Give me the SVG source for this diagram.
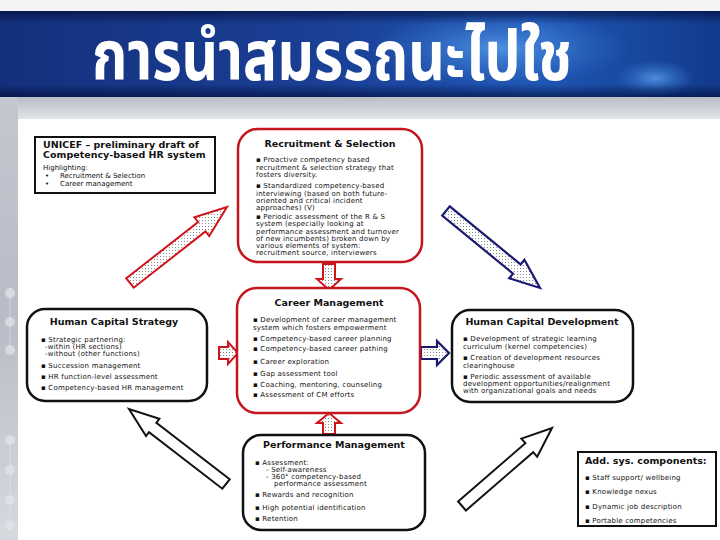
<svg xmlns="http://www.w3.org/2000/svg" width="720" height="540" viewBox="0 0 720 540">
<defs>
<linearGradient id="topg" x1="0" y1="0" x2="0" y2="1"><stop offset="0" stop-color="#f4f4f6"/><stop offset="1" stop-color="#dcdde2"/></linearGradient>
<linearGradient id="bandh" x1="0" y1="0" x2="1" y2="0"><stop offset="0" stop-color="#14307c"/><stop offset="0.45" stop-color="#1a3f95"/><stop offset="0.75" stop-color="#1f56b4"/><stop offset="1" stop-color="#123a8c"/></linearGradient>
<linearGradient id="bandv" x1="0" y1="0" x2="0" y2="1"><stop offset="0" stop-color="#000830" stop-opacity="0.6"/><stop offset="0.15" stop-color="#000830" stop-opacity="0"/><stop offset="0.85" stop-color="#000830" stop-opacity="0"/><stop offset="1" stop-color="#000830" stop-opacity="0.6"/></linearGradient>
<radialGradient id="map" cx="0.5" cy="0.5" r="0.5"><stop offset="0" stop-color="#5aa0ec" stop-opacity="0.8"/><stop offset="1" stop-color="#3a7fd8" stop-opacity="0"/></radialGradient>
<linearGradient id="silver" x1="0" y1="0" x2="0" y2="1"><stop offset="0" stop-color="#b9bdc6"/><stop offset="1" stop-color="#e2e4e8"/></linearGradient>
<linearGradient id="strip" x1="0" y1="0" x2="0" y2="1"><stop offset="0" stop-color="#c3c7d0"/><stop offset="0.5" stop-color="#b8bcc6"/><stop offset="1" stop-color="#d6d9de"/></linearGradient>
<pattern id="dots" width="3" height="3" patternUnits="userSpaceOnUse"><rect width="3" height="3" fill="#fff"/><rect x="1" y="1" width="1" height="1" fill="#8a8a8a"/></pattern>
<style>
.bred{fill:#fff;stroke:#c4161c;stroke-width:2.5}
.bblk{fill:#fff;stroke:#111;stroke-width:2.5}
.ttl{font-family:"DejaVu Sans",sans-serif;font-weight:bold;font-size:9.5px;fill:#111}
.txt{font-family:"DejaVu Sans",sans-serif;font-size:7px;letter-spacing:0.2px;fill:#111}
.sm{font-family:"DejaVu Sans",sans-serif;font-size:7px;fill:#111}
.ared{fill:url(#dots);stroke:#d0141c;stroke-width:2;stroke-linejoin:miter}
.ablu{fill:url(#dots);stroke:#1a1a70;stroke-width:2.2}
.ablk{fill:#fff;stroke:#111;stroke-width:2}
.dot{fill:#e4e6ea;opacity:0.7}
</style>
</defs>
<g id="background">
<rect width="720" height="540" fill="url(#topg)"/>
<rect x="0" y="11" width="720" height="86" fill="url(#bandh)"/>
<ellipse cx="500" cy="48" rx="130" ry="38" fill="url(#map)"/>
<ellipse cx="655" cy="78" rx="40" ry="18" fill="url(#map)"/>
<rect x="0" y="11" width="720" height="86" fill="url(#bandv)"/>
<rect x="0" y="97" width="720" height="22" fill="url(#silver)"/>
<rect x="0" y="97" width="18" height="443" fill="url(#strip)"/>
<line x1="10" y1="293" x2="10" y2="350" stroke="#e4e6ea" stroke-width="1" opacity="0.6"/>
<line x1="10" y1="440" x2="10" y2="525" stroke="#e4e6ea" stroke-width="1" opacity="0.6"/>
<circle class="dot" cx="10" cy="293" r="5"/>
<circle class="dot" cx="10" cy="322" r="5"/>
<circle class="dot" cx="10" cy="350" r="5"/>
<circle class="dot" cx="10" cy="440" r="5"/>
<circle class="dot" cx="10" cy="470" r="5"/>
<circle class="dot" cx="10" cy="500" r="5"/>
<circle class="dot" cx="10" cy="525" r="5"/>
<rect x="18" y="119" width="702" height="421" fill="#fff"/>
</g>
<text id="title" x="92" y="80" textLength="480" lengthAdjust="spacingAndGlyphs" font-family="'Noto Sans Thai','Noto Sans','DejaVu Sans',sans-serif" font-weight="bold" font-size="70" fill="#fff">การนำสมรรถนะไปใช</text>

<g id="connectors">
<polygon class="ared" points="126.3,278.3 198.1,222 194.4,217.3 227,207 209.2,236.1 205.5,231.4 133.7,287.7"/>
<polygon class="ablu" points="449.8,206.4 520.6,264.4 524.4,259.7 540,288 509.2,278.3 513,273.6 442.2,215.6"/>
<polygon class="ablk" points="229.7,479.3 156.4,422.7 159.4,418.7 129,409 146,436.1 149,432.1 222.3,488.7"/>
<polygon class="ablk" points="458.1,501.5 525.4,443.2 521.4,438.6 552,428 537.2,456.8 533.2,452.2 465.9,510.5"/>
<polygon class="ared" points="323,264 335,264 335,279 341,279 329,290 317,279 323,279"/>
<polygon class="ared" points="323,434 335,434 335,423 341,423 329,413 317,423 323,423"/>
<polygon class="ared" points="219,347 228,347 228,342 238,353 228,364 228,359 219,359"/>
<polygon class="ablu" points="421,347 437,347 437,341 449,353 437,365 437,359 421,359"/>
</g>

<g id="unicef">
<rect x="35" y="137" width="180" height="56" fill="#fff" stroke="#111" stroke-width="2"/>
<text class="ttl" x="43" y="148">UNICEF – preliminary draft of</text>
<text class="ttl" x="43" y="157.5">Competency-based HR system</text>
<text class="sm" x="43" y="170">Highlighting:</text>
<text class="sm" x="45" y="178">•</text><text class="sm" x="60" y="178">Recruitment &amp; Selection</text>
<text class="sm" x="45" y="186">•</text><text class="sm" x="60" y="186">Career management</text>
</g>

<g id="recruitment">
<rect class="bred" x="238" y="129" width="184" height="133" rx="20"/>
<text class="ttl" x="330" y="147" text-anchor="middle">Recruitment &amp; Selection</text>
<text class="txt"><tspan x="256" y="162">▪ Proactive competency based</tspan><tspan x="256" y="170">recruitment &amp; selection strategy that</tspan><tspan x="256" y="177">fosters diversity.</tspan><tspan x="256" y="188">▪ Standardized competency-based</tspan><tspan x="256" y="196">interviewing (based on both future-</tspan><tspan x="256" y="203">oriented and critical incident</tspan><tspan x="256" y="210">approaches)  (V)</tspan><tspan x="256" y="219">▪ Periodic assessment of the R &amp; S</tspan><tspan x="256" y="226">system (especially looking at</tspan><tspan x="256" y="234">performance assessment and turnover</tspan><tspan x="256" y="241">of new incumbents) broken down by</tspan><tspan x="256" y="248">various elements of system:</tspan><tspan x="256" y="255">recruitment source, interviewers</tspan></text>
</g>

<g id="career">
<rect class="bred" x="237" y="288" width="183" height="125" rx="20"/>
<text class="ttl" x="329" y="306" text-anchor="middle">Career Management</text>
<text class="txt"><tspan x="253" y="322">▪ Development of career management</tspan><tspan x="253" y="330">system which fosters empowerment</tspan><tspan x="253" y="341">▪ Competency-based career planning</tspan><tspan x="253" y="351">▪ Competency-based career pathing</tspan><tspan x="253" y="364">▪ Career exploration</tspan><tspan x="253" y="376">▪ Gap assessment tool</tspan><tspan x="253" y="387">▪ Coaching, mentoring, counseling</tspan><tspan x="253" y="397">▪ Assessment of CM  efforts</tspan></text>
</g>

<g id="hc-strategy">
<rect class="bblk" x="27" y="309" width="180" height="92" rx="18"/>
<text class="ttl" x="114" y="325" text-anchor="middle">Human Capital Strategy</text>
<text class="txt"><tspan x="41" y="342">▪ Strategic partnering:</tspan><tspan x="45" y="349">-within (HR sections)</tspan><tspan x="45" y="356">-without (other functions)</tspan><tspan x="41" y="368">▪ Succession management</tspan><tspan x="41" y="379">▪ HR function-level assessment</tspan><tspan x="41" y="390">▪ Competency-based HR management</tspan></text>
</g>

<g id="hc-development">
<rect class="bblk" x="452" y="310" width="181" height="92" rx="18"/>
<text class="ttl" x="542" y="325" text-anchor="middle">Human Capital Development</text>
<text class="txt"><tspan x="463" y="341">▪ Development of strategic learning</tspan><tspan x="463" y="349">curriculum (kernel competencies)</tspan><tspan x="463" y="360">▪ Creation of development resources</tspan><tspan x="463" y="368">clearinghouse</tspan><tspan x="463" y="379">▪ Periodic assessment of available</tspan><tspan x="463" y="386">development opportunities/realignment</tspan><tspan x="463" y="393">with organizational goals and needs</tspan></text>
</g>

<g id="performance">
<rect class="bblk" x="243" y="435" width="182" height="95" rx="18"/>
<text class="ttl" x="334" y="448" text-anchor="middle">Performance Management</text>
<text class="txt"><tspan x="255" y="465">▪ Assessment:</tspan><tspan x="266" y="472">- Self-awareness</tspan><tspan x="266" y="479">- 360° competency-based</tspan><tspan x="274" y="486">performance assessment</tspan><tspan x="255" y="497">▪ Rewards and recognition</tspan><tspan x="255" y="510">▪ High potential identification</tspan><tspan x="255" y="521">▪ Retention</tspan></text>
</g>

<g id="add-components">
<rect x="578" y="452" width="138" height="74" fill="#fff" stroke="#111" stroke-width="2"/>
<text class="ttl" x="585" y="464">Add. sys. components:</text>
<text class="txt"><tspan x="585" y="480">▪ Staff support/ wellbeing</tspan><tspan x="585" y="494">▪ Knowledge nexus</tspan><tspan x="585" y="509">▪ Dynamic job description</tspan><tspan x="585" y="523">▪ Portable competencies</tspan></text>
</g>
</svg>
